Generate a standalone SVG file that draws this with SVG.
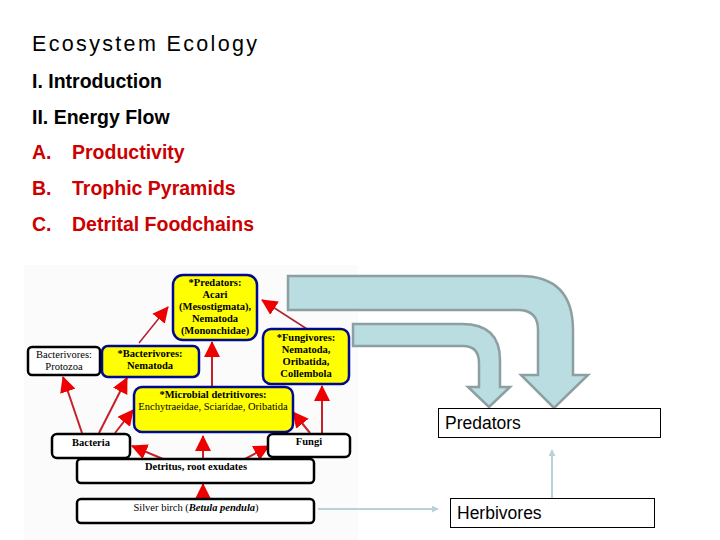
<svg xmlns="http://www.w3.org/2000/svg" width="720" height="540" viewBox="0 0 720 540">
<defs>
<style>
.h{font-family:"Liberation Sans",Arial,sans-serif;fill:#000}
.r{font-family:"Liberation Sans",Arial,sans-serif;font-weight:bold;font-size:19.5px;fill:#cc0000}
.b{font-family:"Liberation Sans",Arial,sans-serif;font-weight:bold;font-size:19.5px;fill:#000}
.yb{fill:#ffff00;stroke:#000a8c;stroke-width:2.5}
.wb{fill:#fff;stroke:#000;stroke-width:2.5}
.t{font-family:"Liberation Serif","Times New Roman",serif;font-size:10.5px;font-weight:bold;fill:#000;text-anchor:middle}
.tn{font-weight:normal}
.ra{stroke:#c8202a;stroke-width:2;fill:none;marker-end:url(#rh)}
.rt{stroke:#b02030;stroke-width:1.5;fill:none;marker-end:url(#rh)}
.big{fill:#b9dde1;stroke:#8d9fa1;stroke-width:2.5;stroke-linejoin:miter}
.la{stroke:#b8d3d7;stroke-width:2;fill:none;marker-end:url(#lh)}
.box{fill:#fff;stroke:#000;stroke-width:1}
.bt{font-family:"Liberation Sans",Arial,sans-serif;font-size:17.5px;fill:#000}
</style>
<marker id="rh" viewBox="0 0 16 16" refX="15" refY="8" markerWidth="16" markerHeight="16" markerUnits="userSpaceOnUse" orient="auto">
<path d="M0,0 L16,8 L0,16 Z" fill="#ee0000"/>
</marker>
<marker id="lh" viewBox="0 0 8 8" refX="7" refY="4" markerWidth="7" markerHeight="7" markerUnits="userSpaceOnUse" orient="auto">
<path d="M0,0 L8,4 L0,8 Z" fill="#b8d3d7"/>
</marker>
</defs>
<rect width="720" height="540" fill="#fff"/>

<g id="titles">
<text class="h" x="32" y="51" font-size="21.5" textLength="225">Ecosystem Ecology</text>
<text class="b" x="32" y="88">I. Introduction</text>
<text class="b" x="32" y="124">II. Energy Flow</text>
<text class="r" x="32" y="159">A.</text><text class="r" x="72" y="159">Productivity</text>
<text class="r" x="32" y="195">B.</text><text class="r" x="72" y="195">Trophic Pyramids</text>
<text class="r" x="32" y="231">C.</text><text class="r" x="72" y="231">Detrital Foodchains</text>
</g>

<rect x="24" y="265" width="334" height="275" fill="#fbfbfb"/>

<g id="connectors">
<line class="ra" x1="82" y1="433" x2="63" y2="377"/>
<line class="ra" x1="99" y1="433" x2="127" y2="378"/>
<line class="ra" x1="115" y1="433" x2="133" y2="410"/>
<line class="ra" x1="163" y1="459" x2="132" y2="446"/>
<line class="ra" x1="203" y1="459" x2="203" y2="436"/>
<line class="ra" x1="245" y1="459" x2="269" y2="446"/>
<line class="ra" x1="310" y1="433" x2="293" y2="412"/>
<line class="ra" x1="322" y1="433" x2="322" y2="386"/>
<line class="ra" x1="203" y1="499" x2="203" y2="484"/>
<line class="ra" x1="212" y1="387" x2="212" y2="342"/>
<line class="rt" x1="139" y1="343" x2="168" y2="307"/>
<line class="rt" x1="307" y1="329" x2="262" y2="300"/>
<path class="big" d="M288,276 L520,276 Q573,276 573,330 L573,375 L588,375 L554,408 L521,375 L538,375 L538,330 Q538,310 518,310 L288,310 Z"/>
<path class="big" d="M353,324 L462,324 Q500,324 500,360 L500,387 L510,387 L489,407 L468,387 L479,387 L479,363 Q479,346 463,346 L353,346 Z"/>
<line class="la" x1="318" y1="509" x2="438" y2="509"/>
<line class="la" x1="552" y1="498" x2="552" y2="450"/>
</g>

<g id="predators-web">
<rect class="yb" x="173" y="275" width="84" height="65" rx="10"/>
<text class="t" x="215" y="286">*Predators:</text>
<text class="t" x="215" y="298">Acari</text>
<text class="t" x="215" y="310">(Mesostigmata),</text>
<text class="t" x="215" y="322">Nematoda</text>
<text class="t" x="215" y="334">(Mononchidae)</text>
</g>
<g id="fungivores">
<rect class="yb" x="263" y="329" width="86" height="55" rx="8"/>
<text class="t" x="306" y="341">*Fungivores:</text>
<text class="t" x="306" y="353">Nematoda,</text>
<text class="t" x="306" y="365">Oribatida,</text>
<text class="t" x="306" y="377">Collembola</text>
</g>
<g id="bact-protozoa">
<rect class="wb" x="28" y="347" width="72" height="28" rx="4"/>
<text class="t tn" x="64" y="358">Bacterivores:</text>
<text class="t tn" x="64" y="370">Protozoa</text>
</g>
<g id="bact-nematoda">
<rect class="yb" x="102" y="346" width="97" height="31" rx="6"/>
<text class="t" x="150" y="357">*Bacterivores:</text>
<text class="t" x="150" y="369">Nematoda</text>
</g>
<g id="microbial">
<rect class="yb" x="134" y="387" width="159" height="45" rx="8"/>
<text class="t" x="213" y="398">*Microbial detritivores:</text>
<text class="t tn" x="213" y="410">Enchytraeidae, Sciaridae, Oribatida</text>
</g>
<g id="bacteria">
<rect class="wb" x="52" y="434" width="78" height="24" rx="5"/>
<text class="t" x="91" y="446">Bacteria</text>
</g>
<g id="fungi">
<rect class="wb" x="268" y="434" width="82" height="23" rx="5"/>
<text class="t" x="309" y="445">Fungi</text>
</g>
<g id="detritus">
<rect class="wb" x="77" y="459" width="237" height="24" rx="4"/>
<text class="t" x="196" y="470">Detritus, root exudates</text>
</g>
<g id="silver-birch">
<rect class="wb" x="77" y="499" width="237" height="24" rx="4"/>
<text class="t" x="196" y="511"><tspan class="tn">Silver birch (</tspan><tspan font-style="italic">Betula pendula</tspan><tspan class="tn">)</tspan></text>
</g>

<g id="predators">
<rect class="box" x="438.5" y="408.5" width="222" height="29"/>
<text class="bt" x="445" y="429">Predators</text>
</g>
<g id="herbivores">
<rect class="box" x="450.5" y="498.5" width="204" height="29"/>
<text class="bt" x="457" y="519">Herbivores</text>
</g>
</svg>
